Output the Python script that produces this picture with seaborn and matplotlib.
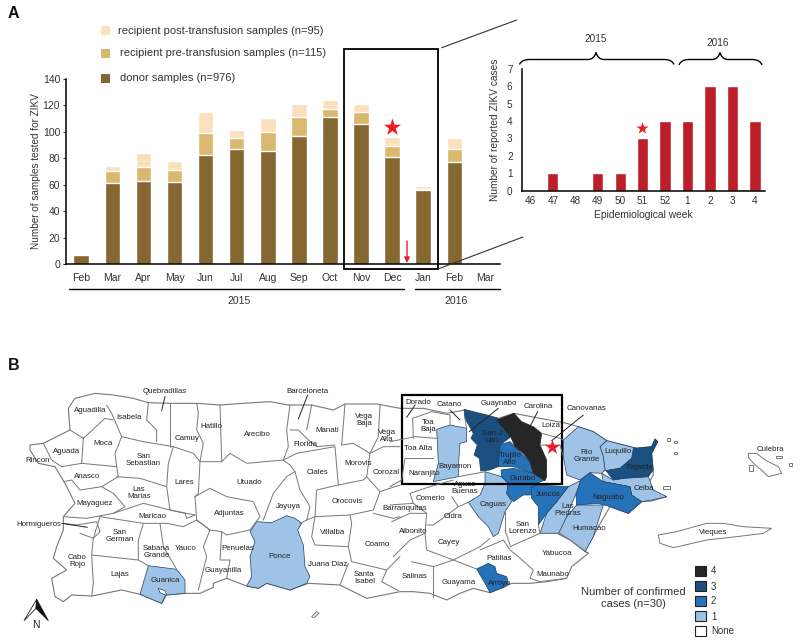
import numpy as np
import pandas as pd
import matplotlib
matplotlib.use("Agg")
import matplotlib.pyplot as plt
import seaborn as sns
from matplotlib.patches import Rectangle, Polygon, PathPatch
from matplotlib.path import Path

sns.set_style("white")
plt.rcParams['font.family'] = ['Liberation Sans', 'DejaVu Sans']
text_col = "#333333"

# panel A data
months = ["Feb", "Mar", "Apr", "May", "Jun", "Jul", "Aug", "Sep", "Oct", "Nov", "Dec", "Jan", "Feb", "Mar"]
month_keys = ["m%d" % i for i in range(len(months))]
donor = [7, 61, 63, 62, 82, 87, 85, 97, 111, 106, 81, 56, 77, 0]
pre = [0, 9, 10, 9, 17, 8, 15, 14, 6, 9, 8, 1, 10, 0.5]
post = [0, 4, 11, 7, 16, 6, 10, 10, 7, 6, 7, 2, 8, 0.5]
# inset data
weeks = ["46", "47", "48", "49", "50", "51", "52", "1", "2", "3", "4"]
cases = [0, 1, 0, 1, 1, 3, 4, 4, 6, 6, 4]

# map outlines, traced in 3x crops of the picture (z3 = west crop, z4 = east crop)
def z3(pts):
    return [(x / 3, 350 + y / 3) for x, y in pts]
def z4(pts):
    return [(390 + x / 3, 370 + y / 3) for x, y in pts]

island = z3([(205,175),(225,145),(285,130),(340,135),(400,145),(445,158),(510,160),(590,160),(660,165),(730,160),
             (810,155),(865,165),(935,165),(1000,180),(1035,162),(1130,162),(1200,175)]) + \
    z4([(100,115),(170,130),(225,120),(290,135),(325,145),(372,130),(450,145),(530,160),(565,170),(610,185),(650,212),
        (740,235),(785,230),(795,207),(803,215),(785,250),(790,315),(775,340),(795,370),(830,380),(785,393),(755,395),
        (715,430),(660,410),(625,470),(585,545),(595,550),(545,590),(530,625),(470,635),(420,640),(365,640),(345,650),
        (300,668),(250,655),(210,670),(170,690),(120,670),(70,665),(30,665)]) + \
    z3([(1100,745),(1020,705),(925,700),(870,720),(800,700),(775,715),(740,708),(680,685),(640,700),(640,712),(600,730),
        (555,730),(500,735),(485,760),(420,733),(365,720),(275,738),(215,735),(190,755),(165,740),(155,685),(200,660),
        (160,625),(170,590),(190,540),(190,500),(225,460),(195,400),(165,350),(115,340),(90,300),(90,285),(130,280),(210,240)])

borders_w = [
    [(210,240),(250,265),(315,205),(340,210)], [(320,165),(335,190),(365,260),(345,310),(350,350)],
    [(250,265),(245,340)], [(130,280),(155,330),(185,350),(245,340),(350,350),(355,380),(305,410),(240,420),(215,390),(190,395)],
    [(365,260),(430,275),(520,290),(505,340),(500,410),(510,480),(585,495)], [(350,380),(420,385),(500,410)],
    [(445,158),(440,210),(470,240),(470,275)], [(510,160),(510,290)],
    [(590,160),(595,190),(590,240),(610,280),(600,335),(580,310),(520,290)], [(660,165),(665,335),(600,335)],
    [(665,335),(690,310),(740,340),(850,330),(865,290),(860,240),(870,165)], [(600,335),(595,430),(585,440)],
    [(305,410),(340,430),(375,470),(340,490)], [(190,500),(260,505),(340,490),(430,460),(510,480),(555,490),(560,505),(585,495)],
    [(300,500),(430,520),(500,520),(550,530),(590,510),(630,540)], [(190,520),(230,525),(290,515),(300,545),(280,565),(240,550)],
    [(300,500),(280,565),(275,615),(415,630)], [(430,520),(415,570),(415,630),(445,647)], [(530,658),(490,590),(480,520)],
    [(275,615),(280,700),(275,738)], [(630,540),(610,590),(620,620),(595,720)], [(665,545),(660,630),(690,630),(680,685)],
    [(585,440),(630,415),(680,440),(760,455),(780,500),(750,540),(680,555),(665,545),(630,540),(590,510),(585,440)],
    [(790,510),(820,430),(860,380),(885,365),(870,345),(850,330)], [(885,365),(900,420),(930,470),(920,510),(900,520)],
    [(850,330),(890,310),(1005,290),(1015,405),(950,420),(945,500),(920,510)], [(870,240),(895,240),(925,270),(950,290),(1005,285)],
    [(935,165),(920,240)], [(1035,162),(1025,285)], [(1025,285),(1060,280),(1110,310),(1135,260),(1140,165)],
    [(1110,310),(1100,380),(1090,390),(1015,405)], [(1110,310),(1150,290),(1200,290)], [(1100,380),(1140,425),(1120,480),(1050,495),(945,500)],
    [(945,500),(935,560),(945,585),(1045,590),(1055,520),(1050,495)], [(1120,490),(1180,505),(1200,500)],
    [(1045,590),(1055,635),(1160,660),(1200,620)], [(1045,640),(1020,705)], [(1160,660),(1145,695),(1195,722)],
    [(1140,425),(1200,405)],
]
borders_e = [
    [(68,145),(70,205)], [(68,145),(125,125),(180,135),(180,165)], [(0,215),(75,200),(140,205)], [(45,265),(130,265)],
    [(45,265),(35,330),(0,350)], [(60,370),(120,350),(190,330)], [(60,370),(70,400),(110,430),(105,490),(60,510),(10,560)],
    [(0,405),(70,400)], [(5,455),(60,430),(110,430)], [(110,465),(130,465),(205,410),(235,397)], [(185,380),(205,410)],
    [(105,490),(110,540),(190,570),(270,530),(300,505)], [(130,590),(190,570),(260,597)], [(130,590),(130,680)], [(65,575),(130,590)],
    [(270,540),(340,510),(360,540),(385,560),(430,600),(420,625),(450,635),(530,625)], [(360,530),(450,490),(510,490),(540,510),(595,550)],
    [(345,480),(360,525)], [(345,425),(345,480)], [(455,190),(510,205),(520,210)], [(450,225),(510,225),(520,260)],
    [(205,320),(285,305)], [(230,175),(225,145)], [(445,465),(450,490)],
]
# coloured municipalities: level, outline
filled = [
    (1, z3([(445,647),(530,658),(555,690),(555,730),(500,735),(495,722),(475,715),(480,728),(497,735),(485,760),(420,733)])),
    (1, z3([(770,515),(815,518),(860,497),(885,505),(905,520),(893,540),(910,585),(915,650),(930,680),(920,700),(870,720),
            (800,700),(775,715),(740,708),(755,680),(750,620),(765,575),(750,545)])),
    (1, z4([(140,178),(180,165),(230,175),(230,215),(210,220),(205,290),(205,320),(130,335),(145,280)])),
    (1, z4([(285,305),(335,320),(355,340),(350,370),(365,395),(345,425),(325,490),(310,500),(295,470),(265,440),(235,397),(270,375),(285,340)])),
    (1, z4([(575,330),(550,390),(530,440),(510,490),(450,490),(470,430),(500,395),(535,350)])),
    (1, z4([(560,405),(640,405),(610,500),(585,545),(540,510),(505,492),(530,440)])),
    (1, z4([(635,310),(670,330),(700,325),(775,320),(790,360),(830,380),(785,390),(755,395),(725,375),(720,350),(640,335)])),
    (1, z4([(630,230),(650,212),(740,235),(725,265),(690,295),(645,302),(640,260)])),
    (1, z4([(565,170),(610,185),(650,212),(630,230),(640,260),(645,300),(635,310),(600,308),(570,330),(530,315),(520,260),(520,210)])),
    (2, z4([(328,225),(360,215),(400,255),(420,275),(430,310),(370,290),(325,290)])),
    (2, z4([(333,300),(370,295),(430,310),(465,330),(440,340),(430,355),(425,375),(400,375),(370,395),(350,370),(355,340),(335,320)])),
    (2, z4([(425,352),(440,345),(535,350),(500,395),(470,430),(445,465),(445,410),(425,385)])),
    (2, z4([(600,308),(640,335),(720,350),(725,375),(755,395),(715,430),(660,410),(625,400),(560,405),(558,375),(572,330)])),
    (2, z4([(260,597),(295,580),(315,590),(320,610),(350,620),(355,640),(345,650),(300,668),(285,640)])),
    (3, z4([(222,118),(325,145),(322,155),(370,195),(330,225),(325,290),(300,300),(272,303),(268,265),(252,255),(262,225),(243,205),(250,190),(225,145)])),
    (3, z4([(648,302),(690,295),(725,265),(730,235),(785,230),(795,207),(803,215),(785,250),(790,300),(775,320),(700,325),(670,330)])),
    (4, z4([(320,150),(372,130),(395,155),(430,170),(455,190),(450,225),(470,270),(470,320),(465,332),(430,310),(420,275),(400,250),(375,230),(362,200)])),
]
islets = [
    z4([(805,495),(860,485),(950,460),(1000,460),(1060,470),(1145,475),(1120,490),(1040,500),(950,510),(850,533),(810,520)]),
    z4([(1075,250),(1100,250),(1125,270),(1165,290),(1175,310),(1135,320),(1120,305),(1090,280),(1075,262)]),
    z4([(1158,258),(1175,258),(1175,265),(1158,265)]), z4([(1197,278),(1207,278),(1207,288),(1197,288)]),
    z4([(1078,285),(1088,285),(1088,303),(1078,303)]), z4([(820,348),(840,348),(840,358),(820,358)]),
    z4([(830,204),(840,204),(840,212),(830,212)]), z4([(852,212),(860,212),(860,219),(852,219)]),
    z4([(852,245),(862,245),(862,253),(852,253)]), z3([(935,800),(950,785),(957,790),(942,803)]),
]
labels_w = [("Quebradillas",494,124),("Barceloneta",923,124),("Aguadilla",270,183),("Isabela",386,202),("Camuy",560,265),
    ("Hatillo",635,230),("Arecibo",772,252),("Manati",983,241),("Vega\nBaja",1092,211),("Vega\nAlta",1160,258),("Aguada",200,304),
    ("Moca",310,281),("San\nSebastian",430,330),("Florida",916,284),("Rincon",112,332),("Anasco",260,378),("Lares",553,398),
    ("Utuado",747,399),("Ciales",952,368),("Morovis",1073,341),("Corozal",1160,367),("Las\nMarias",417,430),("Orocovis",1042,455),
    ("Mayaguez",285,461),("Jayuya",866,468),("Maricao",457,500),("Adjuntas",687,491),("Hormigueros",115,523),("San\nGerman",360,558),
    ("Villalba",997,549),("Coamo",1132,585),("Sabana\nGrande",470,606),("Yauco",556,595),("Penuelas",713,597),("Cabo\nRojo",232,632),
    ("Ponce",838,621),("Juana Diaz",983,643),("Guayanilla",670,660),("Lajas",359,674),("Guanica",497,690),("Santa\nIsabel",1093,683)]
labels_e = [("Dorado",85,96),("Catano",178,104),("Guaynabo",325,100),("Carolina",446,110),("Canovanas",590,116),("Toa\nBaja",115,168),
    ("Loiza",483,166),("San J\nuan",305,201),("Toa Alta",85,236),("Trujillo\nAlto",360,267),("Río\nGrande",589,257),("Luquillo",683,245),
    ("Fajardo",750,292),("Bayamon",195,288),("Naranjito",103,310),("Gurabo",398,326),("Aguas\nBuenas",225,355),("Ceiba",762,357),
    ("Comerio",120,385),("Barranquitas",45,415),("Juncos",476,375),("Naguabo",655,382),("Caguas",310,404),("Las\nPiedras",533,421),
    ("Cidra",188,441),("San\nLorenzo",397,475),("Humacao",598,474),("Aibonito",70,484),("Vieques",970,489),("Cayey",177,519),
    ("Culebra",1140,238),("Yabucoa",500,551),("Patillas",328,564),("Maunabo",488,615),("Salinas",73,620),("Guayama",206,636),("Arroyo",328,640)]
leaders = z3([(495,140),(485,182)]), z3([(923,135),(895,207)]), z3([(185,520),(262,532)]), z4([(75,105),(50,142)]), \
    z4([(180,120),(210,150)]), z4([(325,115),(238,185)]), z4([(443,125),(412,185)]), z4([(580,135),(485,212)])

level_cols = {4: "#262626", 3: "#1b4f80", 2: "#2672b8", 1: "#9fc3e7", 0: "white"}
legend_levels = [4, 3, 2, 1, 0]
legend_text = ["4", "3", "2", "1", "None"]

fig = plt.figure(figsize=(8, 6.42), dpi=100)
W, H = 800.0, 642.0

# panel A bars, stacked by drawing the totals from the back
ax = fig.add_axes([65.7 / W, 1 - 264 / H, (500 - 65.7) / W, (264 - 78.7) / H])
d = pd.DataFrame({"month": month_keys, "donor": donor, "pre": pre, "post": post})
sns.barplot(data=d, x="month", y=d["donor"] + d["pre"] + d["post"], color="#fbe0bb", saturation=1, width=0.5, ax=ax)
sns.barplot(data=d, x="month", y=d["donor"] + d["pre"], color="#d9b96f", saturation=1, width=0.5, ax=ax)
sns.barplot(data=d, x="month", y="donor", color="#846731", saturation=1, width=0.5, ax=ax)
ax.set_xlim(-0.5, 13.47)
ax.set_ylim(0, 140)
ax.set_yticks(range(0, 141, 20))
ax.set_xticks(range(len(months)))
ax.set_xticklabels(months)
ax.set_xlabel("")
ax.set_ylabel("Number of samples tested for ZIKV", fontsize=7.2, color=text_col, labelpad=1.5)
ax.tick_params(axis="y", length=2.5, width=0.8, labelsize=7.5, labelcolor=text_col, pad=1.5, left=True)
ax.tick_params(axis="x", length=0, labelsize=7.5, labelcolor=text_col, pad=6.5)
for s in ["top", "right"]:
    ax.spines[s].set_visible(False)
for s in ["left", "bottom"]:
    ax.spines[s].set_color("black")
    ax.spines[s].set_linewidth(1.1)

# inset bars
ax2 = fig.add_axes([522.3 / W, 1 - 190.7 / H, (765 - 522.3) / W, (190.7 - 68.7) / H])
sns.barplot(x=weeks, y=cases, order=weeks, color="#bd1f2a", saturation=1, width=0.5, ax=ax2)
ax2.set_xlim(-0.36, 10.45)
ax2.set_ylim(0, 7)
ax2.set_yticks(range(8))
ax2.set_xlabel("Epidemiological week", fontsize=7.4, color=text_col, labelpad=2.5)
ax2.set_ylabel("Number of reported ZIKV cases", fontsize=7.3, color=text_col, labelpad=5)
ax2.tick_params(axis="x", length=0, labelsize=7.2, labelcolor=text_col, pad=4)
ax2.tick_params(axis="y", length=0, labelsize=7.2, labelcolor=text_col, pad=7)
for s in ["top", "right"]:
    ax2.spines[s].set_visible(False)
for s in ["left", "bottom"]:
    ax2.spines[s].set_color("black")
    ax2.spines[s].set_linewidth(1.1)

# everything else sits on one overlay in picture coordinates
ov = fig.add_axes([0, 0, 1, 1], zorder=5)
ov.set_xlim(0, W)
ov.set_ylim(H, 0)
ov.axis("off")
ov.patch.set_alpha(0)

ov.text(8, 14, "A", fontsize=11.5, fontweight="bold", color="#111111", va="center")
ov.text(8, 366, "B", fontsize=11.5, fontweight="bold", color="#111111", va="center")

for y, col, x, t in [(30.5, "#fbe0bb", 117.5, "recipient post-transfusion samples (n=95)"),
                     (53, "#d9b96f", 119.5, "recipient pre-transfusion samples (n=115)"),
                     (78, "#846731", 119.5, "donor samples (n=976)")]:
    ov.add_patch(Rectangle((101, y - 4.5), 9, 9, fc=col, ec="none"))
    ov.text(x, y, t, fontsize=8, color=text_col, va="center")

ov.add_patch(Rectangle((343.5, 49), 94, 220, fc="none", ec="black", lw=1.3))
ov.plot([441.7, 516.7], [47.7, 20], color="#333333", lw=0.8)
ov.plot([438, 523], [269, 237], color="#333333", lw=0.8)
ov.plot([68.7, 404], [288.7, 288.7], color="black", lw=1)
ov.plot([415, 500], [288.7, 288.7], color="black", lw=1)
ov.text(238.7, 300.5, "2015", fontsize=7.5, color=text_col, ha="center", va="center")
ov.text(456, 301, "2016", fontsize=7.5, color=text_col, ha="center", va="center")

ov.scatter([391.5], [127], marker="*", s=170, color="#ee1c25", linewidths=0)
ov.scatter([642], [128], marker="*", s=85, color="#ee1c25", linewidths=0)
ov.annotate("", xy=(407, 263), xytext=(407, 241),
            arrowprops=dict(arrowstyle="-|>", color="#ee1c25", lw=1, mutation_scale=8, shrinkA=0, shrinkB=0))

def brace(x0, xm, x1, ytop, yc, ybot):
    # curly bracket opening downwards
    verts = [(x0, ybot), (x0 + 2, yc), (x0 + 10, yc), (xm - 8, yc), (xm - 2, yc), (xm, ytop),
             (xm + 2, yc), (xm + 8, yc), (x1 - 10, yc), (x1 - 2, yc), (x1, ybot)]
    codes = [Path.MOVETO, Path.CURVE3, Path.CURVE3, Path.LINETO, Path.CURVE3, Path.CURVE3,
             Path.CURVE3, Path.CURVE3, Path.LINETO, Path.CURVE3, Path.CURVE3]
    ov.add_patch(PathPatch(Path(verts, codes), fc="none", ec="black", lw=1))

brace(519.5, 596, 674, 52.5, 59.5, 64.5)
brace(679, 720, 762, 52.5, 59.5, 65)
ov.text(595.5, 39.5, "2015", fontsize=7.2, color=text_col, ha="center", va="center")
ov.text(718, 43.5, "2016", fontsize=7.2, color=text_col, ha="center", va="center")

# map
ov.add_patch(Polygon(island, closed=True, fc="white", ec="#777777", lw=0.8))
for b in borders_w:
    pts = np.array(z3(b))
    ov.plot(pts[:, 0], pts[:, 1], color="#777777", lw=0.7)
for b in borders_e:
    pts = np.array(z4(b))
    ov.plot(pts[:, 0], pts[:, 1], color="#777777", lw=0.7)
for pts in islets:
    ov.add_patch(Polygon(pts, closed=True, fc="white", ec="#777777", lw=0.7))
for lev, pts in filled:
    ov.add_patch(Polygon(pts, closed=True, fc=level_cols[lev], ec="#1d3f66" if lev < 4 else "#262626", lw=0.5))
for seg in leaders:
    pts = np.array(seg)
    ov.plot(pts[:, 0], pts[:, 1], color="#222222", lw=0.7)
for name, x, y in labels_w:
    px, py = z3([(x, y)])[0]
    ov.text(px, py, name, fontsize=5.7, color="#222222", ha="center", va="center", linespacing=1.05)
for name, x, y in labels_e:
    px, py = z4([(x, y)])[0]
    ov.text(px, py, name, fontsize=5.7, color="#222222", ha="center", va="center", linespacing=1.05)

ov.add_patch(Rectangle((401.7, 394.5), 160, 89, fc="none", ec="black", lw=1.6))
ov.scatter([552], [447], marker="*", s=130, color="#ee1c25", linewidths=0, zorder=6)

# case legend
for i, lev in enumerate(legend_levels):
    y = 570.5 + 15 * i
    ov.add_patch(Rectangle((695.3, y - 5), 10.5, 10, fc=level_cols[lev], ec="#222222", lw=0.8))
    ov.text(711, y + 1, legend_text[i], fontsize=7, color=text_col, va="center")
ov.text(633, 598, "Number of confirmed\ncases (n=30)", fontsize=8, color=text_col, ha="center", va="center", linespacing=1.35)

# north arrow
ov.add_patch(Polygon(z3([(110,748),(72,812),(108,775)]), closed=True, fc="white", ec="#222222", lw=0.6))
ov.add_patch(Polygon(z3([(110,748),(145,812),(108,775)]), closed=True, fc="#111111", ec="#111111", lw=0.6))
ov.text(107 / 3, 350 + 826 / 3, "N", fontsize=7.5, color="#222222", ha="center", va="center")

fig.savefig("out.png", dpi=100)
